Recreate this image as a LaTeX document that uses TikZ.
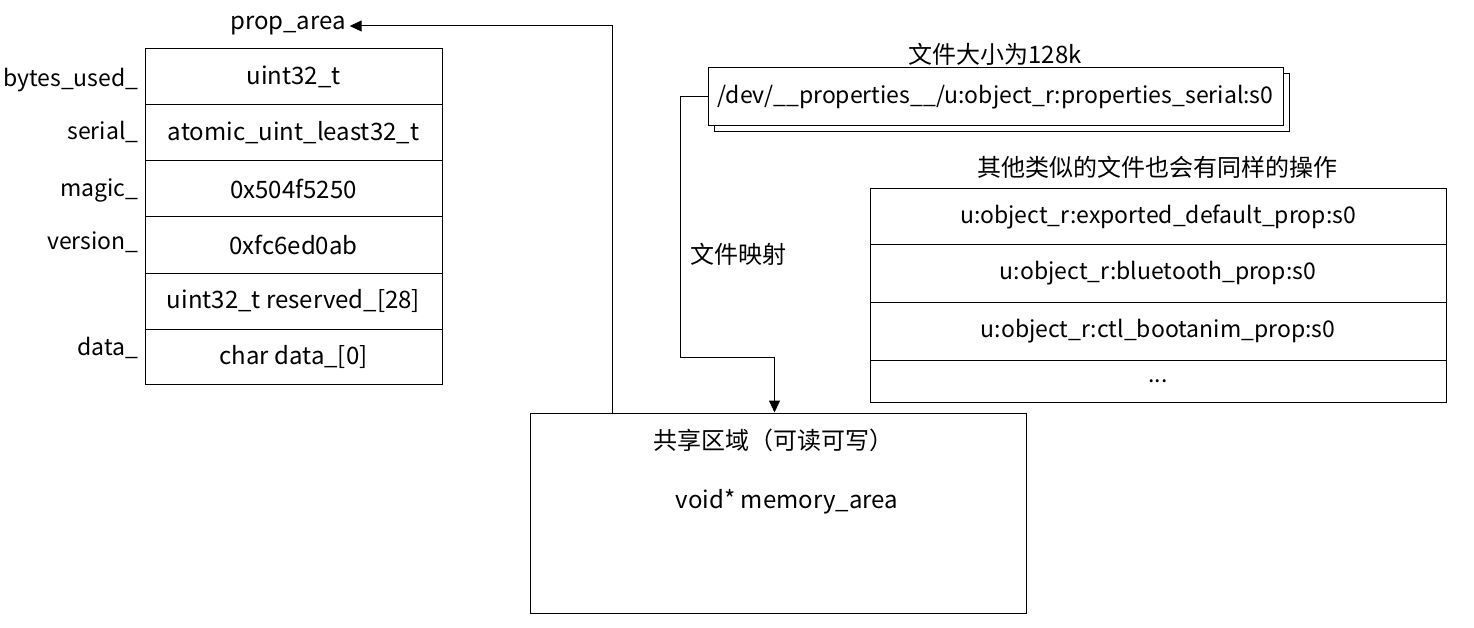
\documentclass[tikz,border=0pt]{standalone}
\usepackage{fontspec}
\setmainfont{Noto Sans CJK SC}
\usetikzlibrary{arrows.meta,calc,positioning}

\begin{document}
\begin{tikzpicture}[x=1pt, y=-1pt, font=\fontsize{24}{28}\selectfont, line width=1pt,
    cell/.style={draw, minimum width=297pt, minimum height=56pt, inner sep=0pt},
    rcell/.style={draw, minimum width=576pt, minimum height=57pt, inner sep=0pt,
        font=\fontsize{23}{27}\selectfont},
    lbl/.style={anchor=east, inner sep=0pt, font=\fontsize{23}{27}\selectfont},
    tip/.style={-{Triangle[length=12pt, width=11pt]}}]
    \useasboundingbox (0,0) rectangle (1474,628);
    % prop_area layout
    \node[cell] (used) at (293.5,77) {uint32\_t};
    \node[cell] (serial) at (293.5,133) {atomic\_uint\_least32\_t};
    \node[cell] (magic) at (293.5,189) {0x504f5250};
    \node[cell] (version) at (293.5,245) {0xfc6ed0ab};
    \node[cell] (resv) at (293.5,301) {uint32\_t reserved\_[28]};
    \node[cell, minimum height=55pt] (data) at (293.5,356.5) {char data\_[0]};
    \node[lbl] (l1) at (139,80) {bytes\_used\_};
    \node[lbl] (l2) at (139,132) {serial\_};
    \node[lbl] (l3) at (139,190) {magic\_};
    \node[lbl] (l4) at (139,242) {version\_};
    \node[lbl] (l5) at (139,348) {data\_};
    \node (prop) at (288,26) {prop\_area};
    % file
    \node (size) at (995,54) {文件大小为128k};
    \node[draw, minimum width=575pt, minimum height=58pt] (fileback) at (1001.5,103) {};
    \node[draw, fill=white, inner sep=0pt, minimum width=575pt, minimum height=58pt,
        font=\fontsize{23}{27}\selectfont] (file) at (995.5,97) {/dev/\_\_properties\_\_/u:object\_r:properties\_serial:s0};
    % other files
    \node (other) at (1157,167) {其他类似的文件也会有同样的操作};
    \node[rcell, minimum height=56pt] (f1) at (1158,217) {u:object\_r:exported\_default\_prop:s0};
    \node[rcell] (f2) at (1158,273.5) {u:object\_r:bluetooth\_prop:s0};
    \node[rcell, minimum height=58pt] (f3) at (1158,331) {u:object\_r:ctl\_bootanim\_prop:s0};
    \node[rcell, minimum height=42pt] (f4) at (1158,381) {...};
    % shared memory
    \node[draw, minimum width=496pt, minimum height=200pt] (shm) at (778,513) {};
    \node (shmt) at (773,440) {共享区域（可读可写）};
    \node (mem) at (787,502) {void* memory\_area};
    \node (map) at (738,254) {文件映射};
    \coordinate (bend) at (680,357);
    \draw[tip] ([xshift=83pt]shm.north west) |- (prop.east);
    \draw[tip] (file.west) -| (bend) -| ([xshift=245pt]shm.north west);
\end{tikzpicture}
\end{document}
